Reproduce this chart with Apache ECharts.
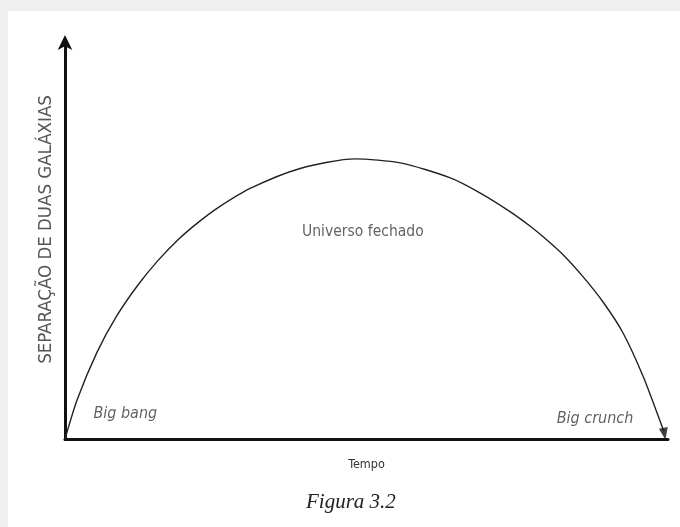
<!DOCTYPE html>
<html>
<head>
<meta charset="utf-8">
<script src="https://cdn.jsdelivr.net/npm/echarts@6/dist/echarts.min.js"></script>
<style>
  html, body { margin: 0; padding: 0; background: #fff; }
  #chart { width: 680px; height: 527px; }
</style>
</head>
<body>
<div id="chart"></div>
<script>
// tempo (0-100) e separacao (0-100)
var tempo = [0, 2.0, 5.3, 8.6, 12.1, 15.4, 18.7, 22.1, 25.4, 30.7, 39.0, 48.1, 55.6, 63.8, 68.8, 73.8, 77.1, 79.3, 82.6, 85.9, 89.2, 92.5, 95.9, 99.2, 99.3];
var separacao = [0, 9.8, 21.7, 30.9, 38.6, 44.7, 49.9, 54.3, 58.0, 62.8, 67.8, 70.2, 69.2, 65.5, 61.7, 57.0, 53.4, 50.7, 46.2, 40.7, 34.4, 26.7, 15.6, 2.4, 2.0];
var rotulos = [
  [49.4, 51.9, 'Universo fechado', 'normal', 15.5],
  [10.0, 6.3, 'Big bang', 'italic', 16],
  [87.9, 5.0, 'Big crunch', 'italic', 16]
];

var fonte = "'Liberation Sans Narrow', 'DejaVu Sans Condensed', 'Liberation Sans', sans-serif";
var curva = tempo.map(function(t, i){ return [t, separacao[i]]; });
var fim = [[99.4, 1.3]];

var myChart = echarts.init(document.getElementById('chart'));
myChart.setOption({
  animation: false,
  backgroundColor: '#fff',
  title: {
    text: 'Figura 3.2',
    left: 301,
    top: 487,
    textStyle: { fontFamily: 'Liberation Serif', fontStyle: 'italic', fontWeight: 'normal', fontSize: 21, color: '#222' }
  },
  graphic: [
    { type: 'rect', left: 0, top: 0, shape: { width: 680, height: 11 }, style: { fill: '#efefef' }, silent: true },
    { type: 'rect', left: 0, top: 0, shape: { width: 8, height: 527 }, style: { fill: '#f0f0f0' }, silent: true }
  ],
  grid: { left: 65, right: 12, top: 40, bottom: 88 },
  xAxis: {
    type: 'value', min: 0, max: 100,
    name: 'Tempo', nameLocation: 'middle', nameGap: 19,
    nameTextStyle: { fontFamily: fonte, fontSize: 12.5, color: '#333' },
    axisLine: { lineStyle: { color: '#111', width: 3 } },
    axisTick: { show: false }, axisLabel: { show: false }, splitLine: { show: false }
  },
  yAxis: {
    type: 'value', min: 0, max: 100,
    name: 'SEPARAÇÃO DE DUAS GALÁXIAS', nameLocation: 'middle', nameGap: 9, nameRotate: 90,
    nameTextStyle: { fontFamily: fonte, fontSize: 18.5, color: '#555', padding: [0, 0, 0, 20] },
    axisLine: { show: true, symbol: ['none', 'arrow'], symbolSize: [11, 15], symbolOffset: [0, 5], lineStyle: { color: '#111', width: 3 } },
    axisTick: { show: false }, axisLabel: { show: false }, splitLine: { show: false }
  },
  series: [
    {
      type: 'line', data: curva, smooth: 0.25, symbol: 'none',
      lineStyle: { color: '#222', width: 1.4 }
    },
    {
      type: 'scatter', data: fim, symbol: 'triangle', symbolSize: [9, 12], symbolRotate: 190,
      itemStyle: { color: '#111' }
    },
    {
      type: 'scatter', symbolSize: 0,
      data: rotulos.map(function(r){
        return { value: [r[0], r[1]], name: r[2],
          label: { show: true, position: 'inside', formatter: r[2], fontStyle: r[3],
            fontFamily: fonte, fontSize: r[4], color: '#3a3a3a' } };
      })
    }
  ]
});
</script>
</body>
</html>
